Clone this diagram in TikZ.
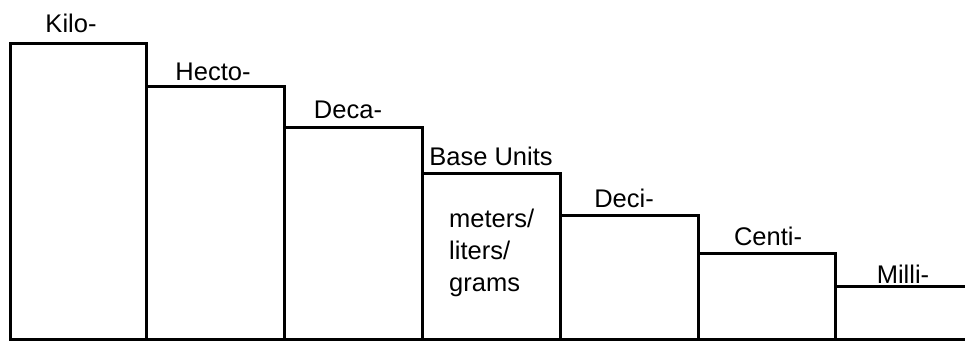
\documentclass[tikz,border=0pt]{standalone}
\usepackage{fontspec}
\setmainfont{Liberation Sans}
\begin{document}
\begin{tikzpicture}[x=1pt,y=-1pt,
  stair/.style={draw=black,line width=3pt,inner sep=0pt,outer sep=0pt,anchor=south west},
  lbl/.style={anchor=base,inner sep=0pt,font=\fontsize{25.5}{30}\selectfont},
  body/.style={anchor=base west,inner sep=0pt,font=\fontsize{25.5}{30}\selectfont}]
\useasboundingbox (0,0) rectangle (965,341);
\clip (0,0) rectangle (965,341);
\node[stair,minimum width=136pt,minimum height=296pt] (kilo) at (10,339) {};
\node[stair,minimum width=138pt,minimum height=253pt] (hecto) at (146,339) {};
\node[stair,minimum width=138pt,minimum height=212pt] (deca) at (284,339) {};
\node[stair,minimum width=138pt,minimum height=166pt] (base) at (422,339) {};
\node[stair,minimum width=138pt,minimum height=124pt] (deci) at (560,339) {};
\node[stair,minimum width=137pt,minimum height=86pt] (centi) at (698,339) {};
\node[stair,minimum width=150pt,minimum height=53pt] (milli) at (835,339) {};
\node[lbl] (tkilo) at (71,32) {Kilo-};
\node[lbl] (thecto) at (213,80) {Hecto-};
\node[lbl] (tdeca) at (348,118) {Deca-};
\node[lbl] (tbase) at (491,165) {Base Units};
\node[lbl] (tdeci) at (624,207) {Deci-};
\node[lbl] (tcenti) at (768,245) {Centi-};
\node[lbl] (tmilli) at (903,283) {Milli-};
\node[body] (m1) at (449,227) {meters/};
\node[body] (m2) at (449,259) {liters/};
\node[body] (m3) at (449,291) {grams};
\end{tikzpicture}
\end{document}
